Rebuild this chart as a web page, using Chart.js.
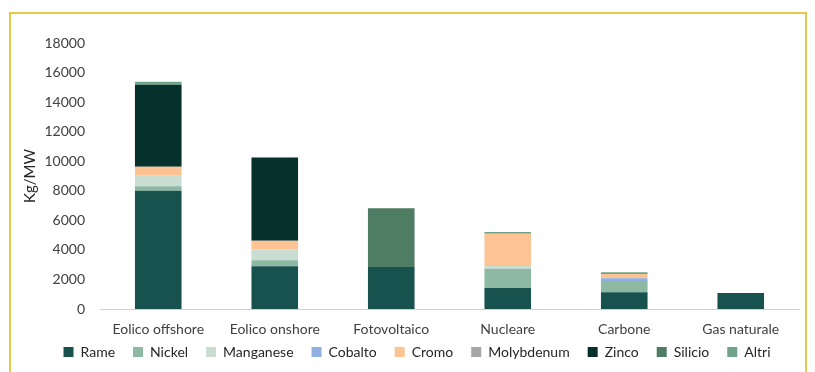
<!DOCTYPE html>
<html>
<head>
<meta charset="utf-8">
<script src="https://cdn.jsdelivr.net/npm/chart.js@4"></script>
<style>
  body { margin: 0; background: #fff; }
  #wrap { position: relative; width: 815px; height: 372px; }
  #frame { position: absolute; left: 9px; top: 12px; width: 798px; height: 380px; border: 2px solid #e9c64c; box-sizing: border-box; }
  canvas { position: absolute; left: 0; top: 0; }
</style>
</head>
<body>
<div id="wrap">
  <div id="frame"></div>
  <canvas id="chart" width="815" height="372"></canvas>
</div>
<script>
let categories = ["Eolico offshore", "Eolico onshore", "Fotovoltaico", "Nucleare", "Carbone", "Gas naturale"];

// kg/MW per materiale
let rame       = [8000, 2900, 2850, 1420, 1130, 1080];
let nickel     = [300, 400, 0, 1310, 770, 0];
let manganese  = [720, 740, 0, 180, 0, 0];
let cobalto    = [0, 0, 0, 0, 180, 0];
let cromo      = [610, 570, 0, 2190, 290, 0];
let molybdenum = [0, 0, 0, 0, 0, 0];
let zinco      = [5550, 5640, 0, 0, 0, 0];
let silicio    = [0, 0, 3970, 0, 0, 0];
let altri      = [200, 0, 0, 110, 110, 0];

let yTicks = [0, 2000, 4000, 6000, 8000, 10000, 12000, 14000, 16000, 18000];

let series = [
    { label: "Rame", data: rame, color: "#17524f" },
    { label: "Nickel", data: nickel, color: "#8db9a2" },
    { label: "Manganese", data: manganese, color: "#c9ddd3" },
    { label: "Cobalto", data: cobalto, color: "#8fb0e0" },
    { label: "Cromo", data: cromo, color: "#fdc393" },
    { label: "Molybdenum", data: molybdenum, color: "#a6a6a6" },
    { label: "Zinco", data: zinco, color: "#06302c" },
    { label: "Silicio", data: silicio, color: "#4f7d64" },
    { label: "Altri", data: altri, color: "#6ea58a" }
];

let font = "Lato, 'Open Sans', sans-serif";

// move the legend a bit closer to the axis labels
let legendUp = {
    id: "legendUp",
    afterLayout(chart) {
        chart.legend.top -= 12;
        chart.legend.bottom -= 12;
    }
};

new Chart(document.getElementById("chart"), {
    type: "bar",
    data: {
        labels: categories,
        datasets: series.map(s => ({
            label: s.label,
            data: s.data,
            backgroundColor: s.color,
            barPercentage: 0.5,
            categoryPercentage: 0.8
        }))
    },
    options: {
        responsive: false,
        animation: false,
        layout: { padding: { left: 35, right: 16, top: 43, bottom: -9 } },
        plugins: {
            legend: {
                position: "bottom",
                labels: {
                    boxWidth: 10,
                    boxHeight: 10,
                    padding: 18,
                    color: "#262626",
                    font: { family: font, size: 14 }
                }
            },
            tooltip: { enabled: false }
        },
        scales: {
            x: {
                stacked: true,
                grid: { display: false },
                border: { color: "#d0d0d0", width: 1 },
                ticks: { color: "#404040", font: { family: font, size: 14 }, padding: 4 },
                afterFit: s => { s.height = 30; }
            },
            y: {
                stacked: true,
                min: 0,
                max: 18000,
                afterBuildTicks: s => { s.ticks = yTicks.map(v => ({ value: v })); },
                grid: { display: false },
                border: { display: false },
                ticks: {
                    color: "#404040",
                    font: { family: font, size: 14 },
                    padding: 7,
                    callback: v => String(v)
                },
                title: { display: true, text: "Kg/MW", color: "#262626", font: { family: font, size: 15 }, padding: { top: -14 } },
                afterFit: s => { s.width = 65; }
            }
        }
    },
    plugins: [legendUp]
});
</script>
</body>
</html>
